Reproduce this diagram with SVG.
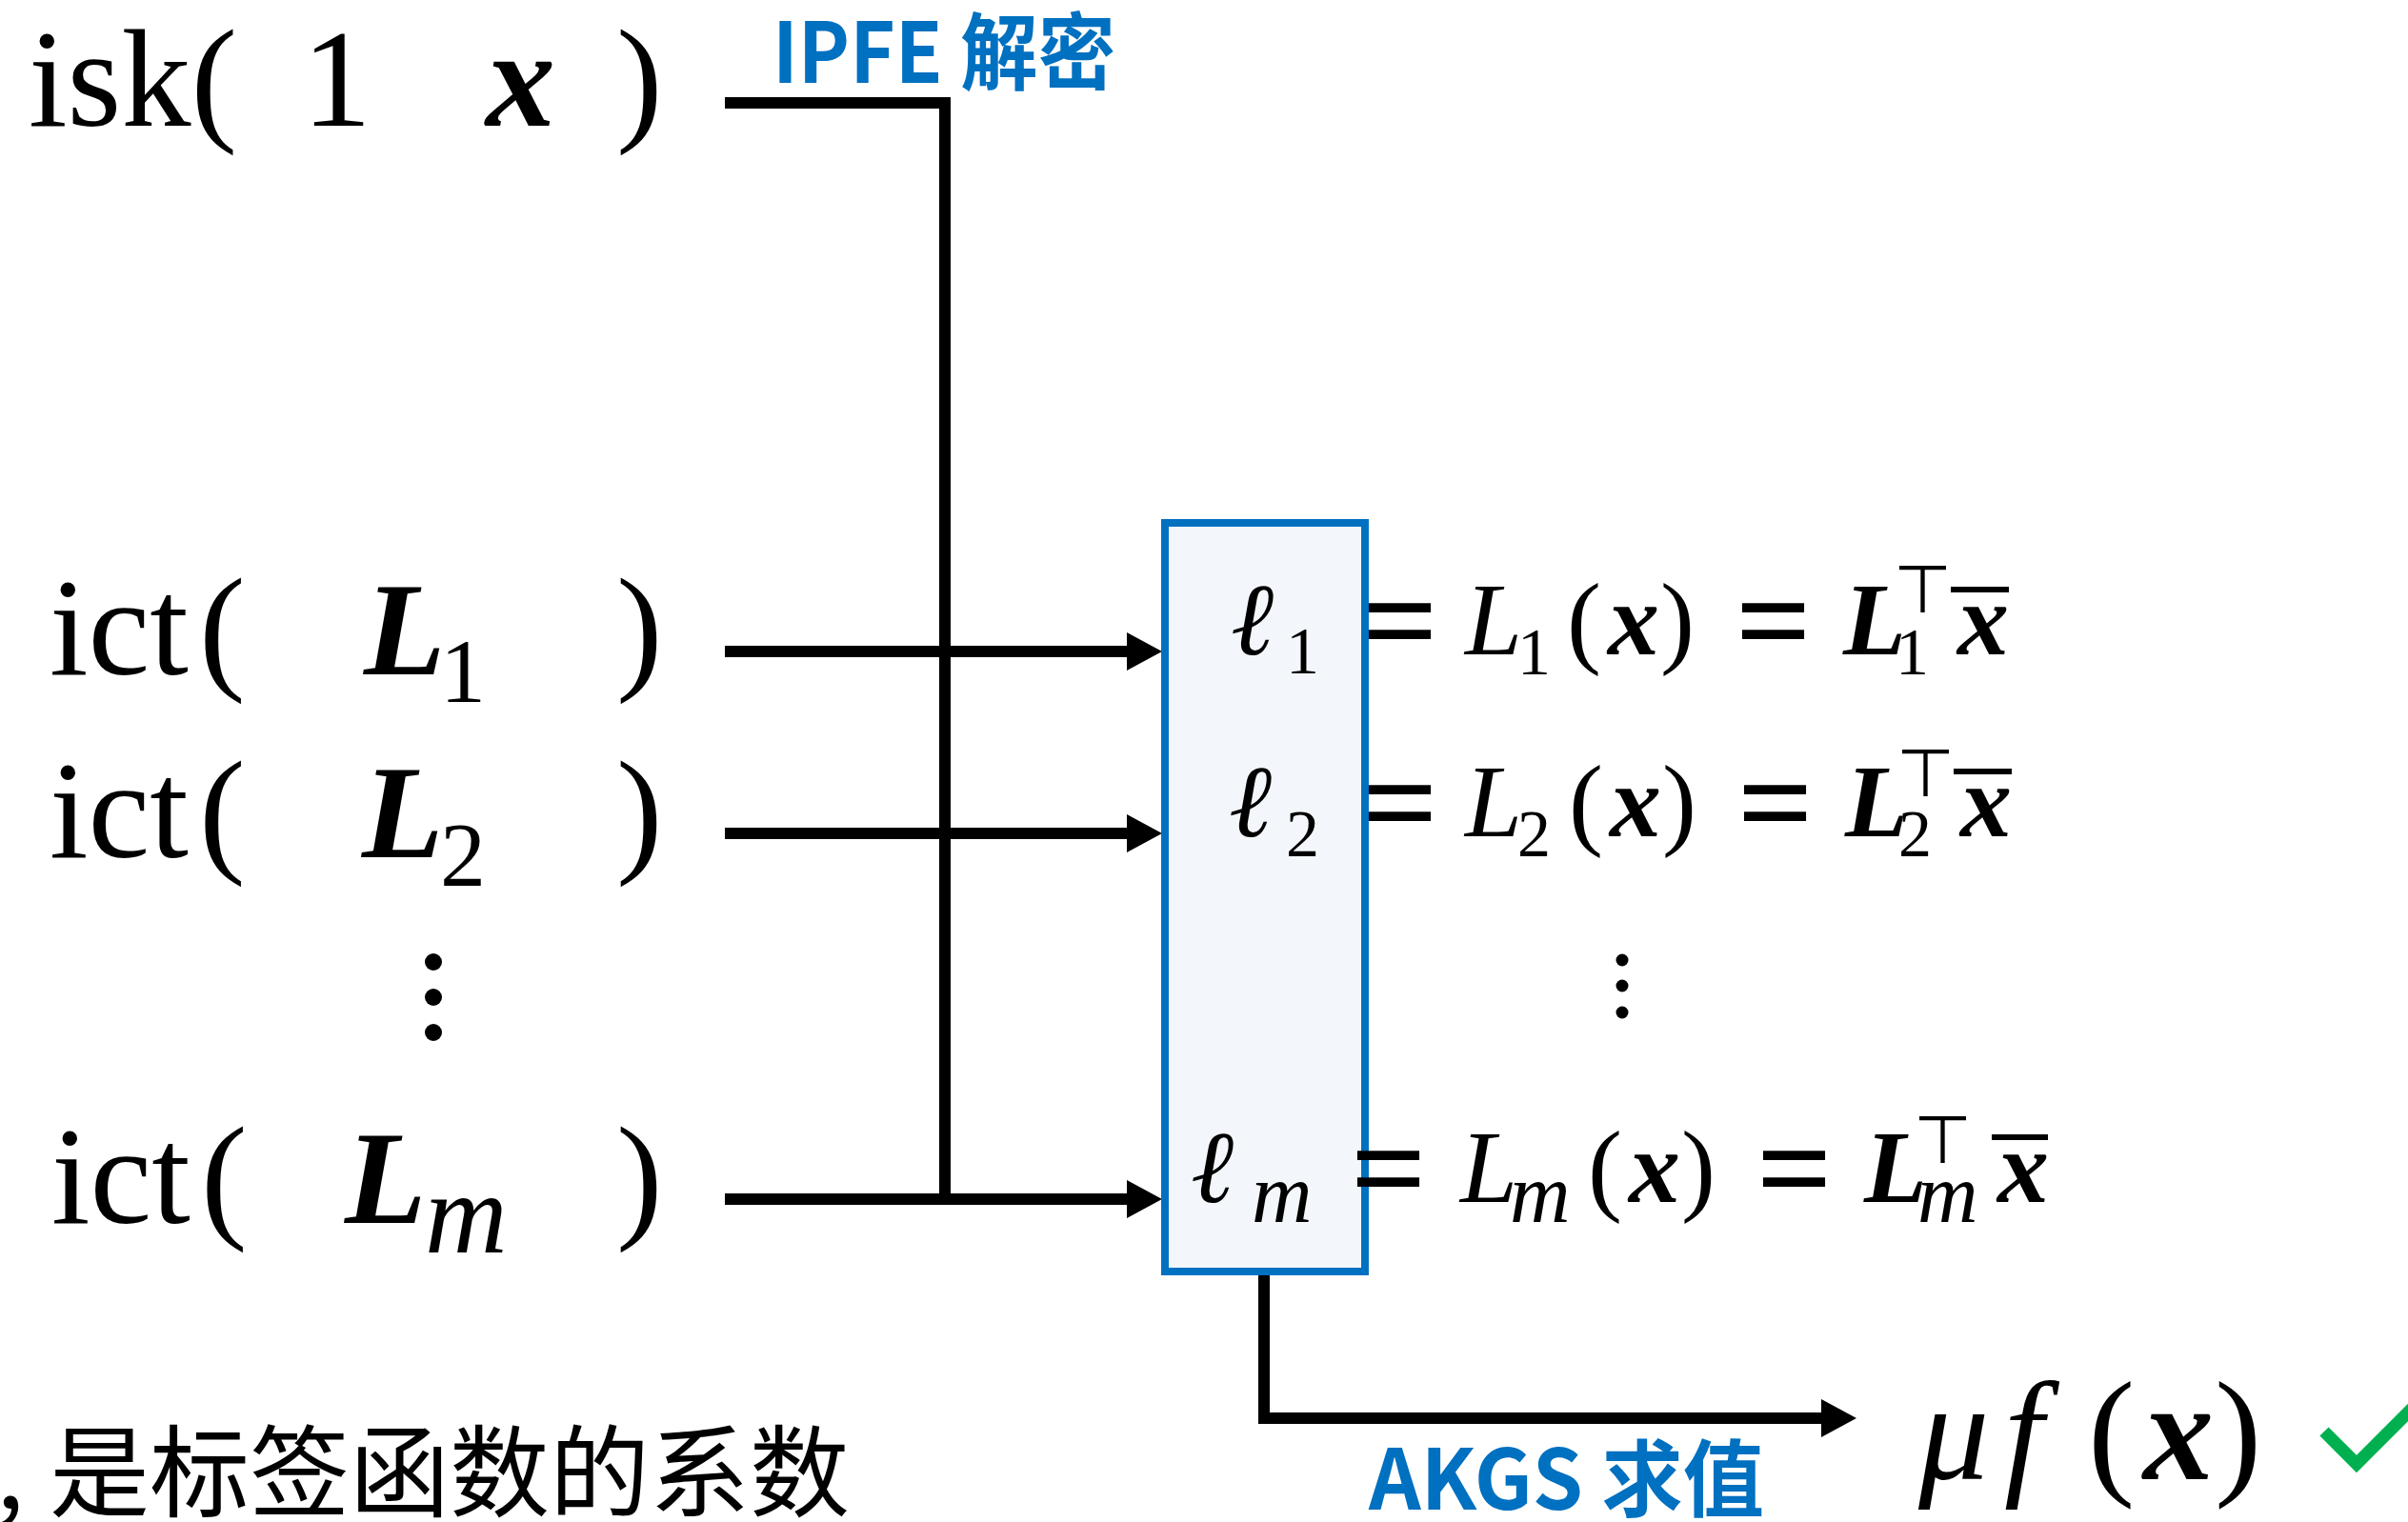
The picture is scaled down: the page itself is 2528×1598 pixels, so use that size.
<svg xmlns="http://www.w3.org/2000/svg" width="2528" height="1598" viewBox="0 0 2528 1598">
<style>
.t{font-family:"Liberation Serif","DejaVu Serif",serif;fill:#000}
.bi{font-weight:bold;font-style:italic}
.it{font-style:italic}
.eq{font-family:"Liberation Serif","DejaVu Serif",serif;font-weight:bold;font-size:140px;fill:#000}
.tack{font-family:"DejaVu Sans",sans-serif;fill:#000}
.lbl{font-family:"Noto Sans CJK SC",sans-serif;font-weight:bold;fill:#0070C0}
.cn{font-family:"Noto Sans CJK SC",sans-serif;fill:#000}
.wire{fill:none;stroke:#000;stroke-width:12;stroke-linejoin:miter}
.dot{fill:#000}
</style>
<defs>
<marker id="ah" markerUnits="userSpaceOnUse" markerWidth="40" markerHeight="42" refX="0" refY="20" orient="auto" overflow="visible">
<path d="M0,0 L37,20 L0,40 z" fill="#000"/>
</marker>
</defs>

<g id="connectors">
<path class="wire" d="M761,108 H992 V1259"/>
<line class="wire" x1="761" y1="684" x2="1183" y2="684" marker-end="url(#ah)"/>
<line class="wire" x1="761" y1="875" x2="1183" y2="875" marker-end="url(#ah)"/>
<line class="wire" x1="761" y1="1259" x2="1183" y2="1259" marker-end="url(#ah)"/>
<path class="wire" d="M1327,1339 V1489 H1912" marker-end="url(#ah)"/>
</g>

<g id="isk">
<text class="t" font-size="146" y="132"><tspan x="30">isk(</tspan><tspan x="317">1</tspan><tspan x="510" class="bi">x</tspan><tspan x="647">)</tspan></text>
</g>

<g id="ict1">
<text class="t" font-size="146" y="708"><tspan x="52">ict</tspan><tspan x="209">(</tspan><tspan x="382" class="bi" font-size="140">L</tspan><tspan x="647">)</tspan></text>
<text class="t" font-size="96" x="462" y="737">1</text>
</g>

<g id="ict2">
<text class="t" font-size="146" y="900"><tspan x="52">ict</tspan><tspan x="209">(</tspan><tspan x="380" class="bi" font-size="140">L</tspan><tspan x="647">)</tspan></text>
<text class="t" font-size="96" x="462" y="930">2</text>
</g>

<g id="vdots-left">
<circle class="dot" cx="455" cy="1010" r="9"/>
<circle class="dot" cx="455" cy="1047" r="9"/>
<circle class="dot" cx="455" cy="1084" r="9"/>
</g>

<g id="ictm">
<text class="t" font-size="146" y="1284"><tspan x="54">ict</tspan><tspan x="211">(</tspan><tspan x="362" class="bi" font-size="140">L</tspan><tspan x="647">)</tspan></text>
<text class="t it" font-size="120" x="446" y="1315">m</text>
</g>

<g id="ipfe-label">
<text class="lbl" font-size="88" x="811" y="87" textLength="360" lengthAdjust="spacingAndGlyphs">IPFE 解密</text>
</g>

<g id="box">
<rect x="1223" y="549" width="210" height="786" fill="#F3F7FB" stroke="#0070C0" stroke-width="8"/>
</g>

<g id="eq1">
<text class="t it" font-size="108" x="1292" y="687">ℓ</text>
<text class="t" font-size="70" x="1350" y="707">1</text>
<text class="eq" x="1430" y="699">=</text>
<text class="t it" font-size="108" x="1538" y="687">L</text>
<text class="t" font-size="70" x="1593" y="708">1</text>
<text class="t" font-size="108" y="687"><tspan x="1645">(</tspan><tspan x="1688" class="bi">x</tspan><tspan x="1743">)</tspan></text>
<text class="eq" x="1822" y="699">=</text>
<text class="t bi" font-size="108" x="1935" y="687">L</text>
<text class="tack" font-size="70" x="1988" y="643">⊤</text>
<text class="t" font-size="70" x="1990" y="708">1</text>
<rect x="2048" y="616" width="61" height="6" fill="#000"/>
<text class="t bi" font-size="108" x="2055" y="687">x</text>
</g>

<g id="eq2">
<text class="t it" font-size="108" x="1290" y="878">ℓ</text>
<text class="t" font-size="70" x="1350" y="899">2</text>
<text class="eq" x="1430" y="890">=</text>
<text class="t it" font-size="108" x="1538" y="878">L</text>
<text class="t" font-size="70" x="1593" y="899">2</text>
<text class="t" font-size="108" y="878"><tspan x="1647">(</tspan><tspan x="1690" class="bi">x</tspan><tspan x="1745">)</tspan></text>
<text class="eq" x="1824" y="890">=</text>
<text class="t bi" font-size="108" x="1937" y="878">L</text>
<text class="tack" font-size="70" x="1991" y="836">⊤</text>
<text class="t" font-size="70" x="1993" y="899">2</text>
<rect x="2051" y="807" width="61" height="6" fill="#000"/>
<text class="t bi" font-size="108" x="2058" y="878">x</text>
</g>

<g id="vdots-right">
<circle class="dot" cx="1703" cy="1008" r="6.5"/>
<circle class="dot" cx="1703" cy="1035" r="6.5"/>
<circle class="dot" cx="1703" cy="1063" r="6.5"/>
</g>

<g id="eqm">
<text class="t it" font-size="108" x="1250" y="1262">ℓ</text>
<text class="t it" font-size="88" x="1314" y="1283">m</text>
<text class="eq" x="1418" y="1274">=</text>
<text class="t it" font-size="108" x="1533" y="1262">L</text>
<text class="t it" font-size="88" x="1585" y="1283">m</text>
<text class="t" font-size="108" y="1262"><tspan x="1667">(</tspan><tspan x="1710" class="bi">x</tspan><tspan x="1765">)</tspan></text>
<text class="eq" x="1844" y="1274">=</text>
<text class="t bi" font-size="108" x="1957" y="1262">L</text>
<text class="tack" font-size="70" x="2009" y="1221">⊤</text>
<text class="t it" font-size="88" x="2013" y="1283">m</text>
<rect x="2091" y="1191" width="59" height="6" fill="#000"/>
<text class="t bi" font-size="108" x="2097" y="1262">x</text>
</g>

<g id="akgs-label">
<text class="lbl" font-size="88" x="1437" y="1585" textLength="415" lengthAdjust="spacingAndGlyphs">AKGS 求值</text>
</g>

<g id="result">
<text class="t" font-size="148" y="1553"><tspan x="2014" class="it">μ</tspan><tspan x="2104" class="it">f</tspan><tspan x="2192">(</tspan><tspan x="2250" class="bi">x</tspan><tspan x="2325">)</tspan></text>
<polyline points="2440,1503 2474,1537 2545,1466" fill="none" stroke="#00B050" stroke-width="13"/>
</g>

<g id="note">
<text class="cn" font-size="105" y="1584"><tspan x="-4">,</tspan><tspan x="52">是标签函数的系数</tspan></text>
</g>
</svg>
